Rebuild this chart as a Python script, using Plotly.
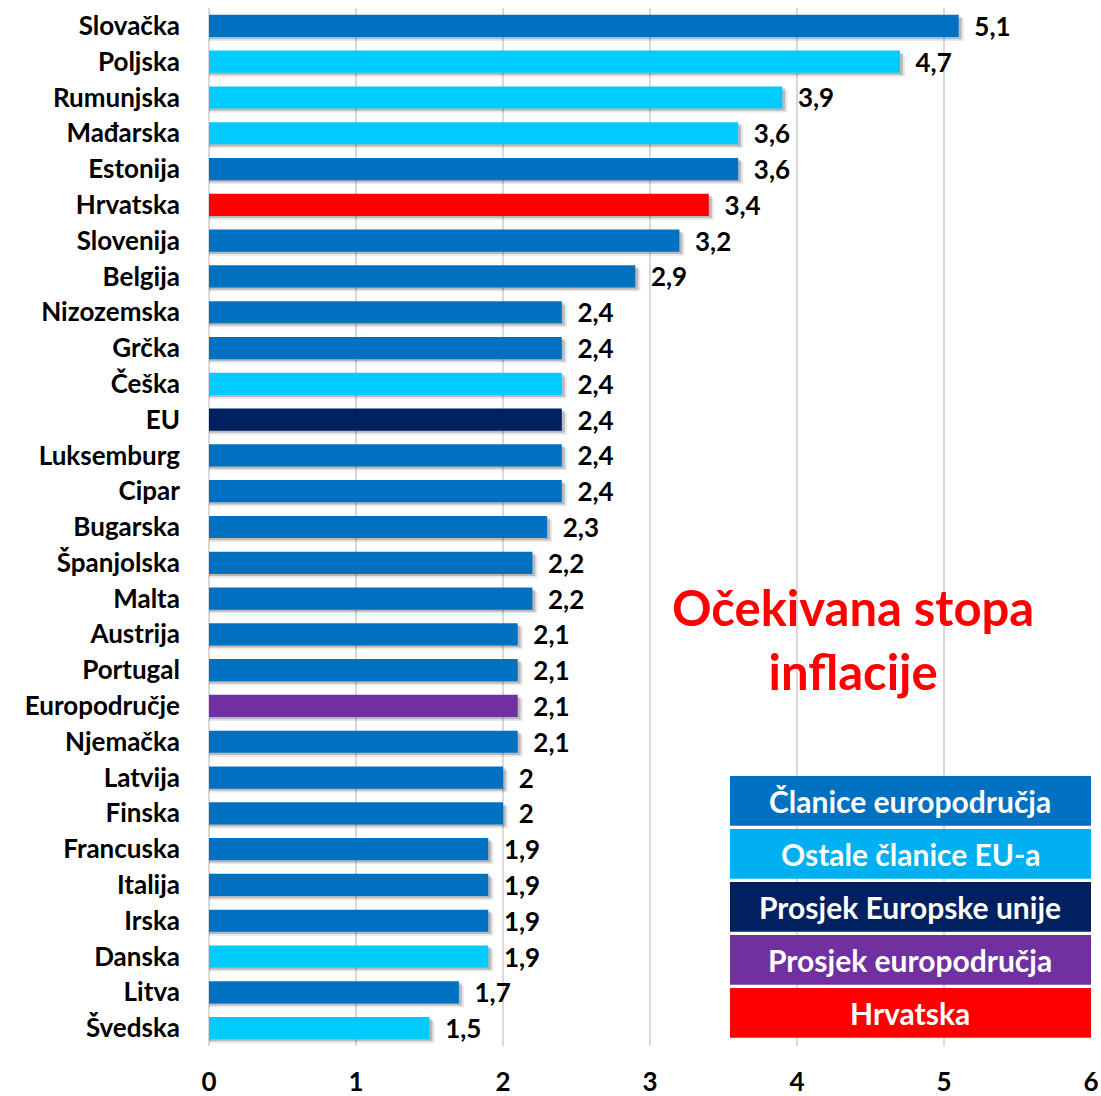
import plotly.graph_objects as go

countries = ["Slovačka", "Poljska", "Rumunjska", "Mađarska", "Estonija", "Hrvatska",
             "Slovenija", "Belgija", "Nizozemska", "Grčka", "Češka", "EU", "Luksemburg",
             "Cipar", "Bugarska", "Španjolska", "Malta", "Austrija", "Portugal",
             "Europodručje", "Njemačka", "Latvija", "Finska", "Francuska", "Italija",
             "Irska", "Danska", "Litva", "Švedska"]
inflation = [5.1, 4.7, 3.9, 3.6, 3.6, 3.4, 3.2, 2.9, 2.4, 2.4, 2.4, 2.4, 2.4, 2.4, 2.3,
             2.2, 2.2, 2.1, 2.1, 2.1, 2.1, 2.0, 2.0, 1.9, 1.9, 1.9, 1.9, 1.7, 1.5]
groups = ["ez", "ost", "ost", "ost", "ez", "hr", "ez", "ez", "ez", "ez", "ost", "eu", "ez",
          "ez", "ez", "ez", "ez", "ez", "ez", "ea", "ez", "ez", "ez", "ez", "ez", "ez",
          "ost", "ez", "ost"]

legend_names = ["Članice europodručja", "Ostale članice EU-a", "Prosjek Europske unije",
                "Prosjek europodručja", "Hrvatska"]
legend_colors = ["#0070C0", "#00B0F0", "#002060", "#7030A0", "#FF0000"]

bar_colors = {"ez": "#0070C0", "ost": "#00CCFF", "eu": "#002060", "ea": "#7030A0", "hr": "#FF0000"}
colors = [bar_colors[g] for g in groups]

FONT = "Lato"
W = 0.62

fig = go.Figure()

# soft drop shadow, two layers
for dx, off, alpha in [(0.035, 0.11, 0.09), (0.02, 0.06, 0.2)]:
    fig.add_trace(go.Bar(
        y=countries, x=[v + dx for v in inflation], orientation="h",
        width=W, offset=-W / 2 + off,
        marker=dict(color=f"rgba(0,0,0,{alpha})", line=dict(width=0)),
        hoverinfo="skip", showlegend=False
    ))

fig.add_trace(go.Bar(
    y=countries, x=inflation, orientation="h",
    width=W, offset=-W / 2,
    marker=dict(color=colors, line=dict(width=0)),
    texttemplate="\u00a0\u00a0%{x}", textposition="outside", cliponaxis=False,
    constraintext="none",
    textfont=dict(family=FONT, size=26, color="black", weight="bold"),
    showlegend=False
))

# legend boxes
box_h = 49.7 / 1038
step = 53.0 / 1038
top0 = (1046 - 776) / 1038
for i, (name, col) in enumerate(zip(legend_names, legend_colors)):
    y1 = top0 - i * step
    y0 = y1 - box_h
    fig.add_shape(type="rect", xref="x", yref="paper", x0=3.544, x1=6.0, y0=y0, y1=y1,
                  fillcolor=col, line=dict(width=0), layer="above")
    fig.add_annotation(x=4.772, y=(y0 + y1) / 2, xref="x", yref="paper", text=name,
                       showarrow=False, xanchor="center", yanchor="middle",
                       font=dict(family=FONT, size=30, color="white", weight="bold"))

fig.add_annotation(x=4.381, y=0.392, xref="x", yref="paper",
                   text="Očekivana stopa<br>inflacije", showarrow=False,
                   xanchor="center", yanchor="middle",
                   font=dict(family=FONT, size=49, color="#FF0000", weight="bold"))

fig.update_layout(
    width=1101, height=1096,
    margin=dict(l=209, r=10, t=8, b=50),
    barmode="overlay",
    plot_bgcolor="white", paper_bgcolor="white",
    separators=", ",
    showlegend=False,
    font=dict(family=FONT, size=26, color="black"),
    xaxis=dict(range=[0, 6], dtick=1, showgrid=True, gridcolor="#D9D9D9", gridwidth=1.5,
               zeroline=True, zerolinecolor="#D9D9D9", zerolinewidth=1.5,
               tickfont=dict(family=FONT, size=26, color="black", weight="bold"),
               ticklabelstandoff=18, automargin=False, fixedrange=True),
    yaxis=dict(autorange="reversed", showgrid=False,
               tickfont=dict(family=FONT, size=26, color="black", weight="bold"),
               ticklabelstandoff=28, automargin=False, fixedrange=True),
)

fig.write_html("out.html", config={"displayModeBar": False},
               post_script="document.body.style.margin='0';")
